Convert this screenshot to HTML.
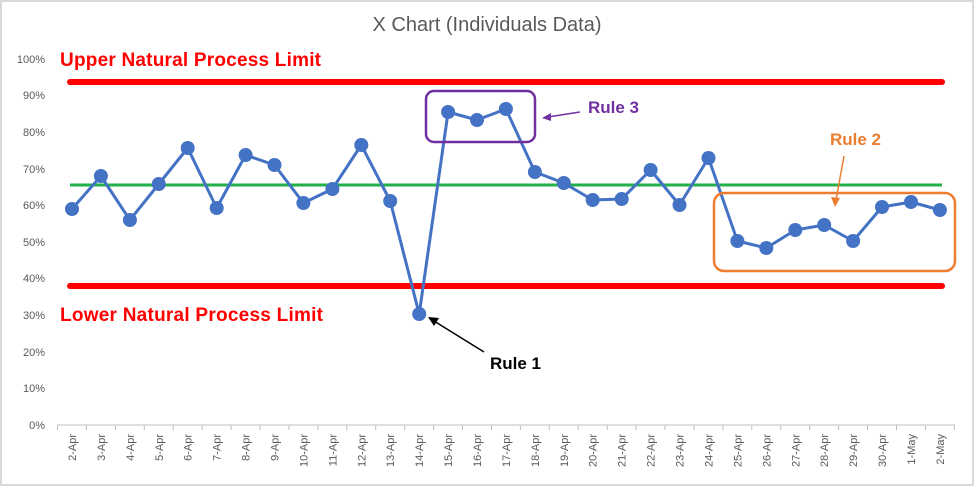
<!DOCTYPE html>
<html><head><style>
body{margin:0;background:#fff;}
svg{display:block;font-family:"Liberation Sans",Arial,sans-serif;}
</style></head><body>
<svg width="974" height="487" viewBox="0 0 974 487">
<rect x="0" y="0" width="974" height="487" fill="#fff"/>
<rect x="1" y="1" width="972" height="484" fill="none" stroke="#d9d9d9" stroke-width="2"/>
<text x="487" y="31" text-anchor="middle" font-size="20" fill="#595959">X Chart (Individuals Data)</text>
<g font-size="11" fill="#595959" text-anchor="end">
<text x="45" y="63">100%</text><text x="45" y="99">90%</text><text x="45" y="136">80%</text>
<text x="45" y="173">70%</text><text x="45" y="209">60%</text><text x="45" y="246">50%</text>
<text x="45" y="282">40%</text><text x="45" y="319">30%</text><text x="45" y="356">20%</text>
<text x="45" y="392">10%</text><text x="45" y="429">0%</text>
</g>
<line x1="57" y1="425" x2="955" y2="425" stroke="#bfbfbf" stroke-width="1"/>
<path stroke="#bfbfbf" d="M57.5 425v5M86.4 425v5M115.4 425v5M144.3 425v5M173.2 425v5M202.2 425v5M231.1 425v5M260 425v5M289 425v5M317.9 425v5M346.8 425v5M375.7 425v5M404.7 425v5M433.6 425v5M462.5 425v5M491.5 425v5M520.4 425v5M549.3 425v5M578.2 425v5M607.2 425v5M636.1 425v5M665 425v5M694 425v5M722.9 425v5M751.8 425v5M780.8 425v5M809.7 425v5M838.6 425v5M867.5 425v5M896.5 425v5M925.4 425v5M954.3 425v5"/>
<g font-size="11" fill="#595959" text-anchor="end">
<text transform="translate(76,434) rotate(-90)">2-Apr</text>
<text transform="translate(104.9,434) rotate(-90)">3-Apr</text>
<text transform="translate(133.9,434) rotate(-90)">4-Apr</text>
<text transform="translate(162.8,434) rotate(-90)">5-Apr</text>
<text transform="translate(191.7,434) rotate(-90)">6-Apr</text>
<text transform="translate(220.7,434) rotate(-90)">7-Apr</text>
<text transform="translate(249.6,434) rotate(-90)">8-Apr</text>
<text transform="translate(278.5,434) rotate(-90)">9-Apr</text>
<text transform="translate(307.4,434) rotate(-90)">10-Apr</text>
<text transform="translate(336.4,434) rotate(-90)">11-Apr</text>
<text transform="translate(365.3,434) rotate(-90)">12-Apr</text>
<text transform="translate(394.2,434) rotate(-90)">13-Apr</text>
<text transform="translate(423.2,434) rotate(-90)">14-Apr</text>
<text transform="translate(452.1,434) rotate(-90)">15-Apr</text>
<text transform="translate(481,434) rotate(-90)">16-Apr</text>
<text transform="translate(509.9,434) rotate(-90)">17-Apr</text>
<text transform="translate(538.9,434) rotate(-90)">18-Apr</text>
<text transform="translate(567.8,434) rotate(-90)">19-Apr</text>
<text transform="translate(596.7,434) rotate(-90)">20-Apr</text>
<text transform="translate(625.7,434) rotate(-90)">21-Apr</text>
<text transform="translate(654.6,434) rotate(-90)">22-Apr</text>
<text transform="translate(683.5,434) rotate(-90)">23-Apr</text>
<text transform="translate(712.5,434) rotate(-90)">24-Apr</text>
<text transform="translate(741.4,434) rotate(-90)">25-Apr</text>
<text transform="translate(770.3,434) rotate(-90)">26-Apr</text>
<text transform="translate(799.3,434) rotate(-90)">27-Apr</text>
<text transform="translate(828.2,434) rotate(-90)">28-Apr</text>
<text transform="translate(857.1,434) rotate(-90)">29-Apr</text>
<text transform="translate(886,434) rotate(-90)">30-Apr</text>
<text transform="translate(915,434) rotate(-90)">1-May</text>
<text transform="translate(943.9,434) rotate(-90)">2-May</text>
</g>
<line x1="70" y1="82" x2="942" y2="82" stroke="#ff0000" stroke-width="6" stroke-linecap="round"/>
<line x1="70" y1="286" x2="942" y2="286" stroke="#ff0000" stroke-width="6" stroke-linecap="round"/>
<line x1="70" y1="185" x2="942" y2="185" stroke="#22b04a" stroke-width="3"/>
<text x="60" y="66" font-size="19" font-weight="bold" fill="#ff0000" textLength="261">Upper Natural Process Limit</text>
<text x="60" y="321" font-size="19" font-weight="bold" fill="#ff0000" textLength="263">Lower Natural Process Limit</text>
<polyline fill="none" stroke="#4472c4" stroke-width="3" stroke-linejoin="round" points="72,209 100.9,176 129.9,220 158.8,184 187.7,148 216.7,208 245.6,155 274.5,165 303.4,203 332.4,189 361.3,145 390.2,201 419.2,314 448.1,112 477,120 505.9,109 534.9,172 563.8,183 592.7,200 621.7,199 650.6,170 679.5,205 708.5,158 737.4,241 766.3,248 795.3,230 824.2,225 853.1,241 882,207 911,202 939.9,210"/>
<g fill="#4472c4">
<circle cx="72" cy="209" r="7"/><circle cx="100.9" cy="176" r="7"/><circle cx="129.9" cy="220" r="7"/><circle cx="158.8" cy="184" r="7"/><circle cx="187.7" cy="148" r="7"/><circle cx="216.7" cy="208" r="7"/><circle cx="245.6" cy="155" r="7"/><circle cx="274.5" cy="165" r="7"/><circle cx="303.4" cy="203" r="7"/><circle cx="332.4" cy="189" r="7"/><circle cx="361.3" cy="145" r="7"/><circle cx="390.2" cy="201" r="7"/><circle cx="419.2" cy="314" r="7"/><circle cx="448.1" cy="112" r="7"/><circle cx="477" cy="120" r="7"/><circle cx="505.9" cy="109" r="7"/><circle cx="534.9" cy="172" r="7"/><circle cx="563.8" cy="183" r="7"/><circle cx="592.7" cy="200" r="7"/><circle cx="621.7" cy="199" r="7"/><circle cx="650.6" cy="170" r="7"/><circle cx="679.5" cy="205" r="7"/><circle cx="708.5" cy="158" r="7"/><circle cx="737.4" cy="241" r="7"/><circle cx="766.3" cy="248" r="7"/><circle cx="795.3" cy="230" r="7"/><circle cx="824.2" cy="225" r="7"/><circle cx="853.1" cy="241" r="7"/><circle cx="882" cy="207" r="7"/><circle cx="911" cy="202" r="7"/><circle cx="939.9" cy="210" r="7"/>
</g>
<rect x="426" y="91" width="109" height="51" rx="8" fill="none" stroke="#7030a0" stroke-width="2.5"/>
<text x="588" y="113" font-size="17" font-weight="bold" fill="#7030a0">Rule 3</text>
<line x1="580" y1="112" x2="548" y2="117" stroke="#7030a0" stroke-width="1.5"/>
<polygon points="542,118 551,113 551,121" fill="#7030a0"/>
<rect x="714" y="193" width="241" height="78" rx="10" fill="none" stroke="#ed7d31" stroke-width="2.5"/>
<text x="830" y="145" font-size="17" font-weight="bold" fill="#ed7d31">Rule 2</text>
<line x1="844" y1="156" x2="836" y2="200" stroke="#ed7d31" stroke-width="1.5"/>
<polygon points="835,207 831,197 840,198" fill="#ed7d31"/>
<text x="490" y="369" font-size="17" font-weight="bold" fill="#000">Rule 1</text>
<line x1="484" y1="352" x2="434" y2="321" stroke="#000" stroke-width="1.5"/>
<polygon points="428,317 439,318 434,326" fill="#000"/>
</svg>
</body></html>
